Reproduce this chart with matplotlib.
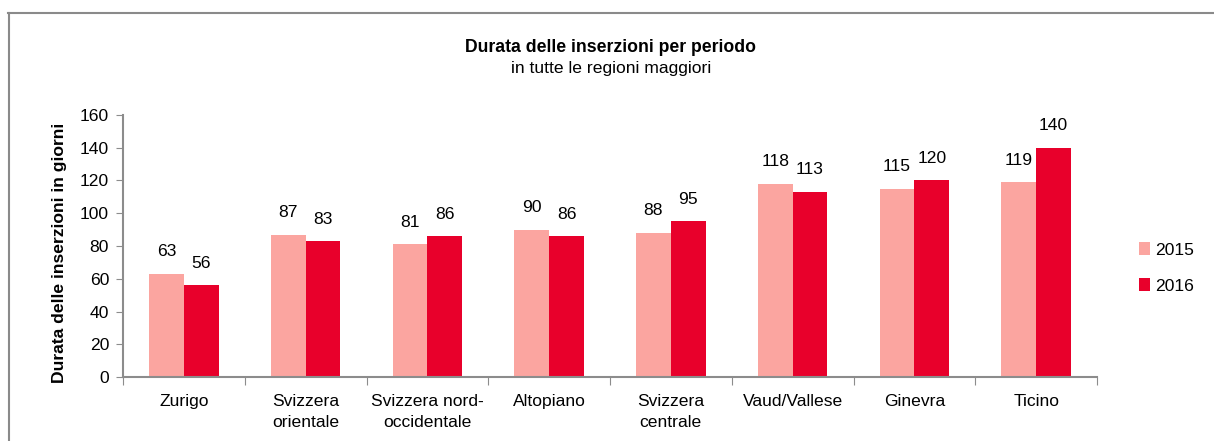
import matplotlib
matplotlib.use("Agg")
import matplotlib.pyplot as plt
import numpy as np
from matplotlib.lines import Line2D

categories = ["Zurigo", "Svizzera\norientale", "Svizzera nord-\noccidentale", "Altopiano",
              "Svizzera\ncentrale", "Vaud/Vallese", "Ginevra", "Ticino"]
values_2015 = [63, 87, 81, 90, 88, 118, 115, 119]
values_2016 = [56, 83, 86, 86, 95, 113, 120, 140]
series_labels = ["2015", "2016"]
yticks = [0, 20, 40, 60, 80, 100, 120, 140, 160]

plt.rcParams['font.family'] = ['Liberation Sans', 'DejaVu Sans']

c15 = "#FBA5A0"
c16 = "#E8002B"
axis_col = "#8C8C8C"
fs = 12.6

fig = plt.figure(figsize=(12.14, 4.41), dpi=100)
ax = fig.add_axes([123/1214, 1-377/441, (1097-123)/1214, (377-115)/441])

x = np.arange(len(categories))
w = 0.286
b1 = ax.bar(x - w/2, values_2015, w, color=c15, label=series_labels[0])
b2 = ax.bar(x + w/2, values_2016, w, color=c16, label=series_labels[1])

for bars, vals in ((b1, values_2015), (b2, values_2016)):
    for r, v in zip(bars, vals):
        ax.annotate(f"{v}", (r.get_x() + r.get_width()/2, v), xytext=(0, 10.5),
                    textcoords="offset points", ha="center", va="bottom", fontsize=fs)

ax.set_xlim(-0.5, len(categories) - 0.5)
ax.set_ylim(0, 160)
ax.set_yticks(yticks)
ax.tick_params(axis='y', direction='out', length=5, color=axis_col, labelsize=fs, pad=5)
ax.set_xticks(np.arange(len(categories) + 1) - 0.5)
ax.set_xticklabels([])
ax.tick_params(axis='x', direction='out', length=6, color=axis_col)
ax.set_xticks(x, minor=True)
ax.set_xticklabels(categories, minor=True, fontsize=fs, linespacing=1.5)
ax.tick_params(axis='x', which='minor', length=0, pad=12)

for s in ('top', 'right'):
    ax.spines[s].set_visible(False)
for s in ('left', 'bottom'):
    ax.spines[s].set_color(axis_col)
    ax.spines[s].set_linewidth(1.5)

ax.set_ylabel("Durata delle inserzioni in giorni", fontsize=fs, fontweight='bold')
ax.yaxis.set_label_coords(-0.057, 0.475)

fig.text(0.503, 1-47/441, "Durata delle inserzioni per periodo", ha='center', va='center',
         fontsize=12.7, fontweight='bold')
fig.text(0.503, 1-69/441, "in tutte le regioni maggiori", ha='center', va='center', fontsize=12.6)

fig.legend(handles=[b1, b2], labels=series_labels, loc='center left',
           bbox_to_anchor=(1123/1214, 1-268/441), frameon=False, fontsize=fs,
           handlelength=0.65, handleheight=0.75, handletextpad=0.3, labelspacing=1.15)

# outer frame (top and left edges visible)
fig.add_artist(Line2D([8/1214, 1], [1-13/441, 1-13/441], color="#8A8A8A", lw=1.5,
                      transform=fig.transFigure))
fig.add_artist(Line2D([9/1214, 9/1214], [0, 1-13/441], color="#8A8A8A", lw=1.5,
                      transform=fig.transFigure))

fig.savefig("out.png", dpi=100)
